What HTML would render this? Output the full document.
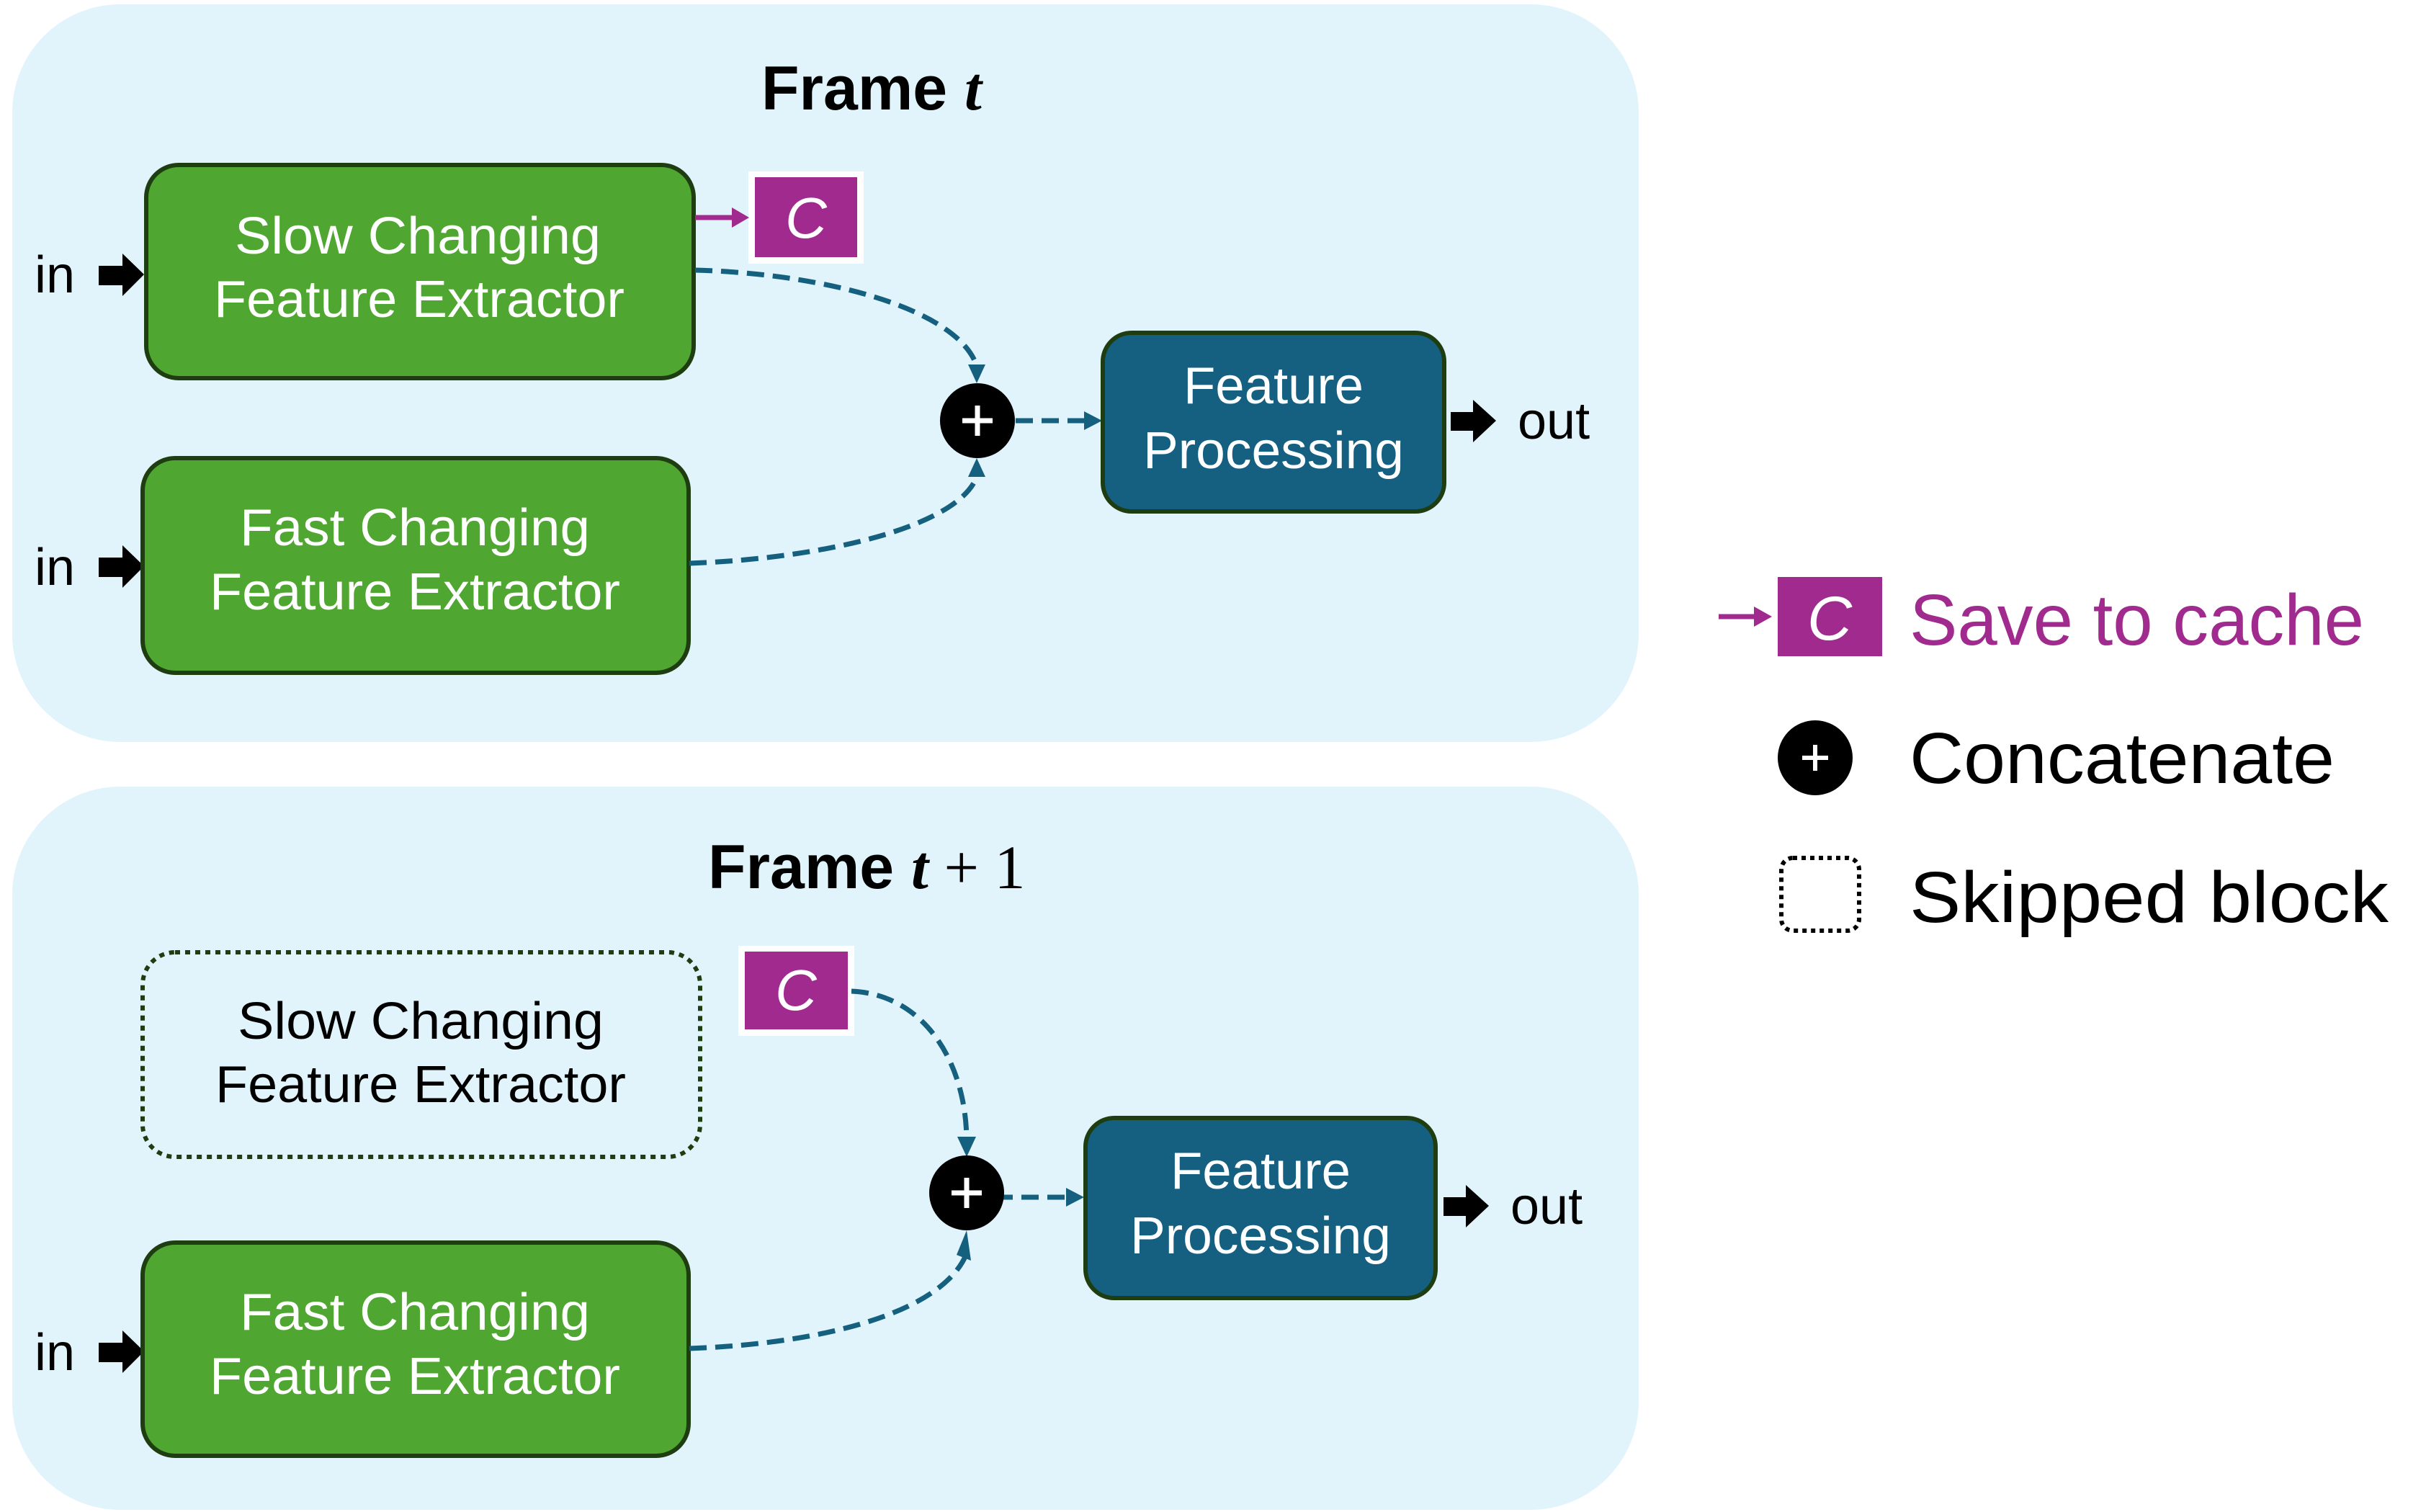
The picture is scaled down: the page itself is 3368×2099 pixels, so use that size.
<!DOCTYPE html>
<html><head><meta charset="utf-8"><style>
html,body{margin:0;padding:0;background:#fff;}
svg{display:block;}
text{font-family:"Liberation Sans",sans-serif;}
</style></head><body>
<svg width="3368" height="2099" viewBox="0 0 3368 2099" xmlns="http://www.w3.org/2000/svg">
<defs>
<marker id="ah" markerWidth="8" markerHeight="8" refX="7" refY="4" orient="auto" markerUnits="userSpaceOnUse" viewBox="0 0 8 8">
</marker>
</defs>
<!-- panels -->
<rect x="17" y="6" width="2258" height="1024" rx="150" fill="#e1f4fc"/>
<rect x="17" y="1092" width="2258" height="1004" rx="150" fill="#e1f4fc"/>

<!-- titles -->
<text x="1057" y="152" font-size="86" font-weight="bold" fill="#000">Frame <tspan font-family="Liberation Serif" font-style="italic">t</tspan></text>
<text x="983" y="1233" font-size="86" font-weight="bold" fill="#000">Frame <tspan font-family="Liberation Serif" font-style="italic">t</tspan><tspan font-family="Liberation Serif" font-weight="normal"> + 1</tspan></text>

<!-- ===== TOP PANEL ===== -->
<!-- in arrows -->
<g fill="#000">
<path d="M137 369 H170 V352 L200 381 L170 411 V396 H137 Z"/>
<path d="M137 774 H170 V757 L200 786 L170 816 V801 H137 Z"/>
<path d="M137 1864 H170 V1847 L200 1876 L170 1906 V1891 H137 Z"/>
<path d="M2014 572 H2045 V555 L2077 584 L2045 614 V598 H2014 Z"/>
<path d="M2004 1662 H2035 V1645 L2067 1674 L2035 1704 V1688 H2004 Z"/>
</g>
<text x="48" y="406" font-size="72" fill="#000">in</text>
<text x="48" y="812" font-size="72" fill="#000">in</text>
<text x="48" y="1902" font-size="72" fill="#000">in</text>
<text x="2107" y="609" font-size="72" fill="#000">out</text>
<text x="2097" y="1699" font-size="72" fill="#000">out</text>

<!-- slow box -->
<rect x="203" y="229" width="760" height="296" rx="45" fill="#4fa631" stroke="#1e3d10" stroke-width="6"/>
<text x="580" y="352" font-size="72" fill="#fff" text-anchor="middle" textLength="508" lengthAdjust="spacingAndGlyphs">Slow Changing</text>
<text x="582" y="440" font-size="72" fill="#fff" text-anchor="middle" textLength="570" lengthAdjust="spacingAndGlyphs">Feature Extractor</text>

<!-- fast box -->
<rect x="198" y="636" width="758" height="298" rx="45" fill="#4fa631" stroke="#1e3d10" stroke-width="6"/>
<text x="576" y="757" font-size="72" fill="#fff" text-anchor="middle" textLength="486" lengthAdjust="spacingAndGlyphs">Fast Changing</text>
<text x="576" y="846" font-size="72" fill="#fff" text-anchor="middle" textLength="570" lengthAdjust="spacingAndGlyphs">Feature Extractor</text>

<!-- cache C top -->
<rect x="1039" y="238" width="160" height="128" fill="#fff"/>
<rect x="1048" y="246" width="142" height="111" fill="#a02a8e"/>
<text x="1119" y="330" font-size="80" fill="#fff" text-anchor="middle" font-family="Liberation Serif" font-style="italic">C</text>
<path d="M965 302 H1020" stroke="#a02a8e" stroke-width="7"/>
<path d="M1016 288 L1040 302 L1016 316 Z" fill="#a02a8e"/>

<!-- connectors top -->
<g fill="none" stroke="#16607f" stroke-width="7" stroke-dasharray="24 12">
<path d="M965 375 C1150 380 1330 430 1356 508"/>
<path d="M957 782 C1150 775 1330 730 1356 662"/>
<path d="M1410 584 H1505"/>
</g>
<g fill="#16607f">
<path d="M1344 506 L1368 506 L1356 532 Z"/>
<path d="M1344 662 L1368 662 L1356 636 Z"/>
<path d="M1505 571 L1530 584 L1505 597 Z"/>
</g>
<circle cx="1357" cy="584" r="52" fill="#000"/>
<path d="M1357 563 V605 M1336 584 H1378" stroke="#fff" stroke-width="7"/>

<!-- feature processing top -->
<rect x="1531" y="462" width="474" height="248" rx="40" fill="#155f80" stroke="#1e3d10" stroke-width="6"/>
<text x="1768" y="560" font-size="72" fill="#fff" text-anchor="middle" textLength="250" lengthAdjust="spacingAndGlyphs">Feature</text>
<text x="1768" y="650" font-size="72" fill="#fff" text-anchor="middle" textLength="362" lengthAdjust="spacingAndGlyphs">Processing</text>

<!-- ===== BOTTOM PANEL ===== -->
<rect x="198" y="1322" width="774" height="284" rx="45" fill="none" stroke="#1e3d10" stroke-width="6" stroke-dasharray="7 7"/>
<text x="584" y="1442" font-size="72" fill="#000" text-anchor="middle" textLength="508" lengthAdjust="spacingAndGlyphs">Slow Changing</text>
<text x="584" y="1530" font-size="72" fill="#000" text-anchor="middle" textLength="570" lengthAdjust="spacingAndGlyphs">Feature Extractor</text>

<rect x="198" y="1725" width="758" height="296" rx="45" fill="#4fa631" stroke="#1e3d10" stroke-width="6"/>
<text x="576" y="1846" font-size="72" fill="#fff" text-anchor="middle" textLength="486" lengthAdjust="spacingAndGlyphs">Fast Changing</text>
<text x="576" y="1935" font-size="72" fill="#fff" text-anchor="middle" textLength="570" lengthAdjust="spacingAndGlyphs">Feature Extractor</text>

<rect x="1025" y="1313" width="161" height="125" fill="#fff"/>
<rect x="1034" y="1321" width="143" height="108" fill="#a02a8e"/>
<text x="1105" y="1402" font-size="80" fill="#fff" text-anchor="middle" font-family="Liberation Serif" font-style="italic">C</text>

<g fill="none" stroke="#16607f" stroke-width="7" stroke-dasharray="24 12">
<path d="M1182 1376 C1280 1380 1340 1470 1342 1580"/>
<path d="M957 1872 C1150 1865 1310 1820 1342 1740"/>
<path d="M1382 1662 H1482"/>
</g>
<g fill="#16607f">
<path d="M1329 1578 L1355 1578 L1342 1606 Z"/>
<path d="M1328 1742 L1348 1750 L1342 1708 Z"/>
<path d="M1480 1649 L1505 1662 L1480 1675 Z"/>
</g>
<circle cx="1342" cy="1656" r="52" fill="#000"/>
<path d="M1342 1635 V1677 M1321 1656 H1363" stroke="#fff" stroke-width="7"/>

<rect x="1507" y="1552" width="486" height="250" rx="40" fill="#155f80" stroke="#1e3d10" stroke-width="6"/>
<text x="1750" y="1650" font-size="72" fill="#fff" text-anchor="middle" textLength="250" lengthAdjust="spacingAndGlyphs">Feature</text>
<text x="1750" y="1740" font-size="72" fill="#fff" text-anchor="middle" textLength="362" lengthAdjust="spacingAndGlyphs">Processing</text>

<!-- ===== LEGEND ===== -->
<path d="M2386 856 H2440" stroke="#a02a8e" stroke-width="7"/>
<path d="M2435 842 L2460 856 L2435 870 Z" fill="#a02a8e"/>
<rect x="2468" y="801" width="145" height="110" fill="#a02a8e"/>
<text x="2540" y="888" font-size="86" fill="#fff" text-anchor="middle" font-family="Liberation Serif" font-style="italic">C</text>
<text x="2651" y="895" font-size="100" fill="#a02a8e" textLength="631" lengthAdjust="spacingAndGlyphs">Save to cache</text>

<circle cx="2520" cy="1052" r="52" fill="#000"/>
<path d="M2520 1034 V1070 M2502 1052 H2538" stroke="#fff" stroke-width="6"/>
<text x="2651" y="1087" font-size="100" fill="#000" textLength="590" lengthAdjust="spacingAndGlyphs">Concatenate</text>

<rect x="2473" y="1191" width="108" height="101" rx="16" fill="none" stroke="#000" stroke-width="6" stroke-dasharray="6 6"/>
<text x="2651" y="1280" font-size="100" fill="#000" textLength="665" lengthAdjust="spacingAndGlyphs">Skipped block</text>
</svg>
</body></html>
